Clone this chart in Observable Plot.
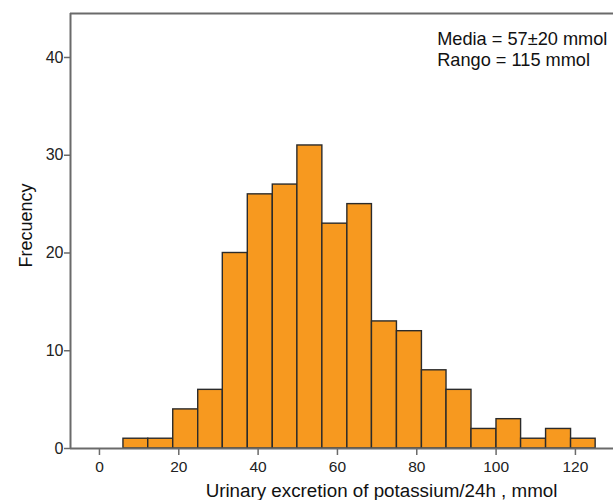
<!DOCTYPE html>
<html><head><meta charset="utf-8">
<script src="https://cdn.jsdelivr.net/npm/d3@7"></script>
<script src="https://cdn.jsdelivr.net/npm/@observablehq/plot@0.6"></script>
<style>body{margin:0;background:#fff} svg{display:block}</style>
</head><body><div id="chart"></div>
<script>
const binStart = [6.05, 12.3, 18.6, 24.9, 31.1, 37.4, 43.7, 49.9, 56.2, 62.5, 68.7, 75.0, 81.3, 87.5, 93.8, 100.1, 106.3, 112.6, 118.9];
const binEnd   = [12.3, 18.6, 24.9, 31.1, 37.4, 43.7, 49.9, 56.2, 62.5, 68.7, 75.0, 81.3, 87.5, 93.8, 100.1, 106.3, 112.6, 118.9, 125.1];
const counts   = [1, 1, 4, 6, 20, 26, 27, 31, 23, 25, 13, 12, 8, 6, 2, 3, 1, 2, 1];
const xTicks = [0, 20, 40, 60, 80, 100, 120];
const yTicks = [0, 10, 20, 30, 40];
const xDomain = [-7.3, 129.6];
const yDomain = [0, 44.5];
const notes = ["Media = 57±20 mmol", "Rango = 115 mmol"];
const xTitle = "Urinary excretion of potassium/24h , mmol";
const yTitle = "Frecuency";

const bins = counts.map((c, i) => ({x1: binStart[i], x2: binEnd[i], count: c}));
const axisGray = "#6a6a6a";
const font = "'Liberation Sans', Arial, Helvetica, sans-serif";

const chart = Plot.plot({
  width: 613, height: 500,
  marginLeft: 70, marginRight: 0, marginTop: 13, marginBottom: 52,
  style: {fontFamily: font, fontSize: "15.5px", color: "#222", background: "#fff"},
  x: {domain: xDomain, label: null},
  y: {domain: yDomain, label: null},
  marks: [
    Plot.rectY(bins, {x1: "x1", x2: "x2", y: "count", fill: "#F7991F", stroke: "#2b2b2b", strokeWidth: 1.4, inset: 0}),
    Plot.ruleY([yDomain[0]], {stroke: axisGray, strokeWidth: 2}),
    Plot.ruleY([yDomain[1]], {stroke: axisGray, strokeWidth: 2}),
    Plot.ruleX([xDomain[0]], {stroke: axisGray, strokeWidth: 2}),
    Plot.axisX({ticks: xTicks, tickSize: 7, tickPadding: 5.5, stroke: axisGray, strokeWidth: 1.5, fill: "#222", fontSize: 15.5, label: null}),
    Plot.axisY({ticks: yTicks, tickSize: 6, tickPadding: 1, stroke: axisGray, strokeWidth: 1.5, fill: "#222", fontSize: 16, label: null}),
    Plot.text([notes.join("\n")], {frameAnchor: "top-right", textAnchor: "start", lineAnchor: "top", dx: -176.3, dy: 16.5, fontSize: 18.2, lineHeight: 1.16, fill: "#111"}),
    Plot.text([xTitle], {frameAnchor: "bottom", textAnchor: "middle", lineAnchor: "top", dx: 39.5, dy: 35, fontSize: 18.8, fill: "#111"}),
    Plot.text([yTitle], {frameAnchor: "left", textAnchor: "middle", lineAnchor: "top", rotate: -90, dx: -51.7, dy: -5.5, fontSize: 18, fill: "#111"})
  ]
});
document.getElementById("chart").append(chart);
</script>
</body></html>
